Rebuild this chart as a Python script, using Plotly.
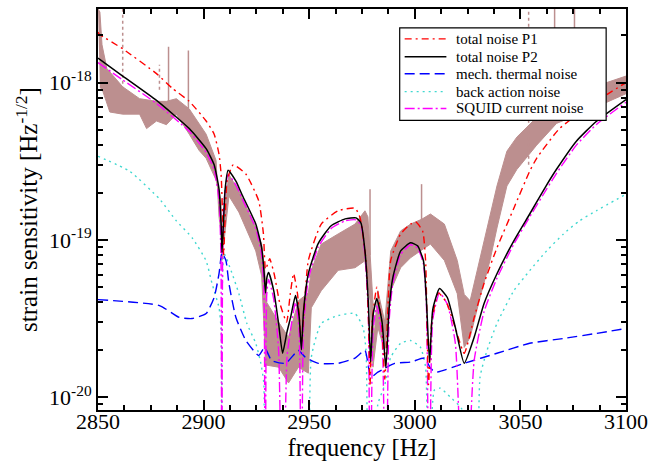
import numpy as np
import plotly.graph_objects as go

U = 1e-20  # all strain values below are in units of 1e-20 Hz^-1/2

# ---- total noise P1 (red dash-dot)
f_p1 = [2850.0, 2850.5, 2861.7, 2877.7, 2885.2, 2893.2, 2901.2, 2905.0, 2907.3, 2908.3, 2909.0, 2909.5, 2910.2,
        2911.2, 2914.0, 2920.0, 2926.1, 2928.3, 2929.3, 2930.3, 2931.3, 2933.5, 2936.0, 2939.3, 2941.0, 2942.6,
        2944.5, 2946.3, 2947.8, 2949.6, 2955.7, 2963.7, 2971.7, 2974.1, 2976.9, 2978.1, 2978.8, 2979.8, 2982.0,
        2984.3, 2985.8, 2987.2, 2988.6, 2993.3, 2998.0, 3000.4, 3003.7, 3005.1, 3006.5, 3008.0, 3011.2, 3015.0,
        3019.0, 3023.4, 3028.1, 3032.8, 3038.9, 3046.9, 3054.4, 3057.7, 3068.5, 3085.9, 3100.0]
v_p1 = [210, 204, 164, 114, 92, 76, 57, 47, 35, 26, 14, 8.0, 14,
        24, 30, 26.2, 17.7, 11, 6.5, 7.0, 7.6, 6.0, 4.0, 3.0, 4.5, 6.1,
        4.5, 2.2, 4.0, 7.4, 12.6, 15.3, 15.9, 13.8, 7.4, 3.0, 1.2, 3.0, 5.0,
        3.0, 1.3, 3.5, 7.4, 10.9, 12.6, 13.0, 11.4, 7.4, 1.2, 3.0, 4.6, 4.0,
        2.8, 1.9, 3.2, 5.3, 8.9, 15.9, 27.3, 33, 51, 76, 100]

# ---- total noise P2 (black solid)
f_p2 = [2850.0, 2861.7, 2877.7, 2893.2, 2901.2, 2905.0, 2907.3, 2908.3, 2908.7, 2909.3, 2910.2, 2911.6, 2915.3,
        2918.1, 2924.7, 2927.5, 2928.6, 2929.3, 2930.0, 2930.8, 2933.2, 2935.5, 2937.4, 2939.5, 2941.2, 2943.5,
        2945.2, 2946.3, 2947.3, 2949.6, 2954.3, 2960.4, 2967.0, 2972.2, 2974.5, 2976.4, 2978.0, 2979.1, 2980.2,
        2982.0, 2984.5, 2986.3, 2987.8, 2989.6, 2993.3, 2998.0, 3001.3, 3004.1, 3005.5, 3007.0, 3008.5, 3011.7,
        3015.4, 3019.2, 3023.4, 3028.1, 3032.8, 3038.9, 3046.9, 3054.4, 3062.4, 3067.1, 3076.5, 3085.9, 3100.0]
v_p2 = [143, 110, 77, 51, 38, 30, 21, 12.5, 8.3, 12, 21, 27.7, 23.6,
        19.5, 12.6, 8.9, 6.3, 4.6, 5.8, 6.2, 4.75, 2.94, 1.9, 2.6, 3.21, 4.42,
        3.3, 2.0, 3.5, 6.1, 9.5, 12.3, 13.6, 13.8, 12.8, 8.5, 4.0, 1.67, 3.3,
        4.23, 3.0, 1.53, 3.6, 5.75, 8.5, 9.57, 9.16, 7.36, 4.11, 1.67, 3.6, 4.9,
        4.3, 2.77, 1.64, 2.40, 3.94, 6.09, 9.86, 14.6, 22.3, 28.1, 42.4, 56.6, 78]

# ---- mechanical thermal noise (blue dashed)
f_th = [2850.0, 2879.1, 2888.5, 2894.6, 2901.2, 2905.0, 2907.3, 2908.7, 2910.6, 2912.0, 2915.3, 2920.0, 2926.1,
        2928.9, 2932.2, 2938.8, 2944.9, 2948.2, 2954.3, 2963.7, 2971.7, 2976.4, 2979.2, 2982.5, 2990.5, 2998.0,
        3004.6, 3007.4, 3009.8, 3023.4, 3038.9, 3054.4, 3070.4, 3085.9, 3100.0]
v_th = [4.17, 3.82, 3.21, 3.16, 3.40, 4.30, 6.09, 8.27, 7.36, 5.27, 3.21, 2.29, 1.84,
        2.07, 1.71, 1.64, 1.98, 1.79, 1.64, 1.64, 1.77, 1.98, 1.34, 1.44, 1.64, 1.67,
        1.77, 1.53, 1.44, 1.64, 1.90, 2.20, 2.36, 2.54, 2.73]

# ---- back action noise (cyan dotted)
f_ba = [2850.0, 2865.0, 2879.1, 2887.1, 2894.6, 2901.2, 2904.0, 2907.3, 2908.3, 2908.7, 2909.7, 2913.0, 2916.7,
        2920.5, 2924.7, 2927.1, 2928.5, 2929.2, 2939.0, 2949.2, 2951.0, 2955.7, 2963.7, 2971.7, 2975.5, 2976.9,
        2978.3, 2982.5, 2985.8, 2988.6, 2993.3, 2998.0, 3002.7, 3005.1, 3006.5, 3009.3, 3012.1, 3016.8, 3022.5,
        3029.5, 3030.9, 3034.2, 3038.9, 3046.9, 3054.4, 3062.4, 3070.4, 3077.9, 3085.9, 3100.0]
v_ba = [34.0, 27.3, 18.2, 13.2, 10.3, 7.36, 5.27, 3.71, 2.66, 0.1, 8.15, 6.37, 4.55,
        2.94, 2.20, 1.64, 1.23, 0.1, 0.7, 0.1, 1.79, 2.94, 3.30, 3.40, 2.77, 1.98,
        0.1, 0.9, 1.2, 1.79, 2.20, 2.29, 2.07, 1.55, 0.1, 1.11, 1.14, 1.0, 0.83,
        0.1, 1.34, 1.98, 2.94, 4.75, 6.37, 8.51, 10.9, 13.2, 15.3, 19.5]

# ---- SQUID current noise (magenta dash-dot)
f_sq = [2850.0, 2861.7, 2877.7, 2893.2, 2901.2, 2905.0, 2907.3, 2908.2, 2908.6, 2909.0, 2909.6, 2911.6, 2915.3,
        2918.1, 2924.7, 2927.5, 2928.6, 2929.2, 2929.9, 2930.8, 2933.2, 2935.5, 2937.4, 2939.5, 2941.2, 2943.5,
        2945.2, 2946.3, 2947.3, 2949.6, 2954.3, 2960.4, 2967.0, 2972.2, 2974.5, 2976.4, 2978.0, 2978.9, 2980.2,
        2982.0, 2984.5, 2986.2, 2987.8, 2989.6, 2993.3, 2998.0, 3001.3, 3004.1, 3005.5, 3006.9, 3008.5, 3011.7,
        3015.4, 3019.2, 3023.5, 3028.1, 3032.8, 3038.9, 3046.9, 3054.4, 3062.4, 3067.1, 3076.5, 3085.9, 3100.0]
v_sq = [134, 104, 73.6, 49, 36, 28, 18, 8, 0.1, 8, 17, 26, 22.3,
        18.5, 11.8, 8.0, 4.5, 0.1, 4.5, 5.6, 4.2, 2.0, 0.1, 1.8, 2.7, 4.0,
        2.7, 0.1, 2.8, 5.6, 9.0, 11.8, 13.2, 13.4, 12.4, 8.0, 3.4, 0.1, 2.6,
        3.8, 2.4, 0.1, 3.0, 5.3, 8.1, 9.3, 8.9, 7.0, 3.8, 0.1, 3.1, 4.6,
        3.9, 2.2, 0.1, 1.7, 3.5, 5.7, 9.4, 14.0, 21, 26.5, 40, 54, 75]

# ---- measured strain sensitivity (brown band: upper and lower envelope)
f_meas_hi = [2850.0, 2850.9, 2851.9, 2854.2, 2861.7, 2869.7, 2877.7, 2882.4, 2887.1, 2893.2, 2901.2, 2905.9,
             2907.3, 2908.3, 2908.7, 2909.7, 2912.0, 2916.7, 2924.7, 2927.5, 2928.9, 2929.9, 2935.5, 2940.2,
             2944.9, 2949.6, 2951.0, 2955.7, 2963.7, 2971.7, 2976.4, 2977.8, 2980.2, 2980.6, 2982.5, 2985.8,
             2988.6, 2993.3, 2998.0, 3003.2, 3007.4, 3014.0, 3020.1, 3023.4, 3026.2, 3030.9, 3035.6, 3038.9,
             3043.6, 3048.3, 3057.7, 3067.1, 3085.9, 3100.0]
v_meas_hi = [294, 281, 174, 123, 94, 79, 76, 76, 79, 68, 47, 32,
             14, 11, 8.9, 15, 26, 20.4, 12, 9.4, 6.5, 4.0, 3.0, 2.4,
             4.1, 4.6, 6.4, 9.4, 10.9, 12.6, 15.3, 14, 4.0, 2.3, 4.75, 3.0,
             8.5, 11.4, 12.6, 13.5, 14.6, 12.6, 7.4, 4.5, 4.1, 7.7, 14.6, 22,
             36.6, 45, 60, 80, 95, 110]
f_meas_lo = [2850.9, 2852.3, 2855.6, 2861.7, 2869.7, 2873.0, 2877.7, 2882.4, 2887.1, 2893.2, 2897.9, 2901.2,
             2905.9, 2908.3, 2908.7, 2909.7, 2912.0, 2916.7, 2924.7, 2927.5, 2929.4, 2935.5, 2940.2, 2944.9,
             2949.6, 2951.0, 2955.7, 2963.7, 2971.7, 2976.4, 2978.8, 2980.2, 2982.5, 2985.8, 2988.6, 2993.3,
             2998.0, 3007.4, 3014.0, 3020.1, 3023.4, 3026.2, 3030.9, 3035.6, 3038.9, 3043.6, 3048.3, 3057.7,
             3067.1, 3085.9, 3100.0]
v_meas_lo = [94, 88, 65, 63, 63, 51, 57, 54, 63, 47, 37, 33,
             24, 17.7, 7.4, 10, 19, 15, 8.5, 5.9, 1.6, 1.55, 1.23, 1.55,
             1.42, 3.7, 4.75, 6.4, 6.65, 7.36, 4.1, 1.55, 2.77, 1.98, 4.75, 6.65,
             7.7, 9.4, 7.4, 4.55, 2.07, 2.4, 4.3, 7.4, 11.9, 22, 28, 40,
             55, 70, 85]

# spikes in the measured data: frequency, base value, tip value, style
spike_f = [2861.7, 2879.1, 2883.4, 2892.8, 2978.8, 3003.2, 3053.9, 3066.2, 3075.6]
spike_lo = [90, 90, 76, 68, 8, 13, 30, 70, 80]
spike_hi = [400, 130, 169, 160, 21, 22.6, 400, 400, 400]
spike_dash = ["dot", "dot", "solid", "solid", "solid", "solid", "dot", "solid", "solid"]

# legend entries (drawn as a boxed key in the upper right)
legend_names = ["total noise P1", "total noise P2", "mech. thermal noise", "back action noise", "SQUID current noise"]

SERIF = "Liberation Serif"
BROWN = "#bc8f8f"
RED, BLACK, BLUE, CYAN, MAGENTA = "#ff0000", "#000000", "#0000ff", "#40d8d0", "#ff00ff"
styles = [(RED, "7px,4px,2px,4px", 1.4), (BLACK, "solid", 1.5), (BLUE, "10px,5px", 1.4),
          (CYAN, "2px,4px", 1.4), (MAGENTA, "10px,3px,2px,3px", 1.4)]

fig = go.Figure()

# measured band
band_x = f_meas_hi + f_meas_lo[::-1]
band_y = list(np.array(v_meas_hi + v_meas_lo[::-1]) * U)
fig.add_trace(go.Scatter(x=band_x, y=band_y, fill="toself", fillcolor=BROWN, mode="lines",
                         line=dict(color=BROWN, width=1), showlegend=False, hoverinfo="skip"))
for fs, lo, hi, ds in zip(spike_f, spike_lo, spike_hi, spike_dash):
    fig.add_trace(go.Scatter(x=[fs, fs], y=[lo * U, hi * U], mode="lines",
                             line=dict(color=BROWN, width=1.5, dash=ds), showlegend=False, hoverinfo="skip"))

series = [(f_p1, v_p1), (f_p2, v_p2), (f_th, v_th), (f_ba, v_ba), (f_sq, v_sq)]
draw_order = [3, 2, 4, 0, 1]
for i in draw_order:
    (fx, vy), name, (col, dash, w) = series[i], legend_names[i], styles[i]
    fig.add_trace(go.Scatter(x=fx, y=list(np.array(vy) * U), name=name, mode="lines",
                             line=dict(color=col, dash=dash, width=w, shape="spline", smoothing=0.5),
                             showlegend=False))

# boxed key (plot area spans 98..630 px horizontally and 7..410 px vertically)
shapes = [dict(type="rect", xref="paper", yref="paper", x0=0.5714, x1=0.9624, y0=0.7221, y1=0.9529,
               line=dict(color="black", width=1.2), fillcolor="white", layer="above")]
annotations = []
row_y = [0.9256, 0.8809, 0.8387, 0.7940, 0.7519]
for ry, name, (col, dash, w) in zip(row_y, legend_names, styles):
    shapes.append(dict(type="line", xref="paper", yref="paper", x0=0.5808, x1=0.6598, y0=ry, y1=ry,
                       line=dict(color=col, dash=dash, width=w), layer="above"))
    annotations.append(dict(xref="paper", yref="paper", x=0.6748, y=ry, xanchor="left", yanchor="middle",
                            text=name, showarrow=False, font=dict(family=SERIF, size=15, color="black")))

minor_y = [k * 10.0 ** e for e in (-21, -20, -19, -18) for k in range(2, 10)]

fig.update_layout(
    width=655, height=466,
    margin=dict(l=98, r=25, t=7, b=56),
    paper_bgcolor="white", plot_bgcolor="white",
    font=dict(family=SERIF, color="black", size=22),
    showlegend=False,
    shapes=shapes, annotations=annotations,
    xaxis=dict(range=[2850, 3100], showline=True, linewidth=2, linecolor="black", mirror="allticks",
               ticks="inside", ticklen=10, tickwidth=1.5, tickcolor="black",
               tickmode="array", tickvals=[2850, 2900, 2950, 3000, 3050, 3100],
               showgrid=False, zeroline=False, ticklabelstandoff=-9,
               minor=dict(ticks="inside", ticklen=5, tickcolor="black", dtick=12.5, tick0=2850, showgrid=False),
               title=dict(text="frequency [Hz]", font=dict(family=SERIF, size=24.5), standoff=0),
               tickfont=dict(family=SERIF, size=22)),
    yaxis=dict(type="log", range=[-20.082, -17.532], showline=True, linewidth=2, linecolor="black",
               mirror="allticks", ticks="inside", ticklen=10, tickwidth=1.5, tickcolor="black",
               tickmode="array", tickvals=[1e-20, 1e-19, 1e-18],
               ticktext=["10<sup>-20</sup>", "10<sup>-19</sup>", "10<sup>-18</sup>"],
               showgrid=False, zeroline=False,
               minor=dict(ticks="inside", ticklen=5, tickcolor="black", showgrid=False, tickvals=minor_y),
               title=dict(text="strain sensitivity [Hz<sup>-1/2</sup>]", font=dict(family=SERIF, size=25),
                          standoff=4),
               tickfont=dict(family=SERIF, size=22)),
)

fig.write_html("out.html", config={"displayModeBar": False},
               post_script="document.body.style.margin='0px';")
